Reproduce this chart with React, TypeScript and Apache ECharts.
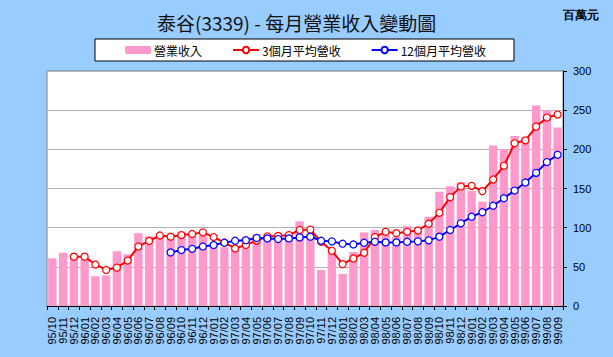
import React, { useEffect, useRef } from "react";
import * as echarts from "echarts";

const months: string[] = [
  "95/10", "95/11", "95/12",
  "96/01", "96/02", "96/03", "96/04", "96/05", "96/06", "96/07", "96/08", "96/09", "96/10", "96/11", "96/12",
  "97/01", "97/02", "97/03", "97/04", "97/05", "97/06", "97/07", "97/08", "97/09", "97/10", "97/11", "97/12",
  "98/01", "98/02", "98/03", "98/04", "98/05", "98/06", "98/07", "98/08", "98/09", "98/10", "98/11", "98/12",
  "99/01", "99/02", "99/03", "99/04", "99/05", "99/06", "99/07", "99/08", "99/09",
];

const revenue: number[] = [
  61, 68, 61,
  60, 38, 39, 70, 66, 93, 89, 89, 86, 95, 93, 94,
  81, 75, 71, 88, 92, 87, 90, 93, 108, 92, 46, 70,
  41, 69, 94, 97, 91, 88, 102, 97, 114, 146, 153, 158,
  147, 133, 205, 200, 217, 215, 256, 250, 228,
];

const avg3: (number | null)[] = [
  null, null, 63,
  63, 53, 46, 49, 58, 76, 83, 90, 88.5, 90.5, 92, 94,
  88, 81, 73.5, 78, 83.5, 89, 89.5, 90.5, 97, 97.5, 82, 70.5,
  53.4, 60.7, 68, 88, 94.7, 93, 94.7, 96.5, 105, 119, 139, 152.6,
  153.4, 146.6, 161.5, 179, 207.7, 211.5, 229, 240.6, 244.4,
];

const avg12: (number | null)[] = [
  null, null, null,
  null, null, null, null, null, null, null, null, 68.4, 71.4, 73, 76,
  77.8, 80.8, 83.3, 84, 86.8, 86.3, 85.5, 86.3, 87.6, 88.5, 83.3, 82.5,
  79.5, 78.6, 80.8, 82, 81.2, 81.2, 82, 82.5, 83.8, 88.5, 97, 105.5,
  114, 119.7, 128, 137.6, 147.4, 157.7, 170, 183.8, 193,
];

const yTicks = { min: 0, max: 300, interval: 50 };

const TITLE = "泰谷(3339) - 每月營業收入變動圖";
const UNIT = "百萬元";
const NAMES = ["營業收入", "3個月平均營收", "12個月平均營收"];

const CJK = "'Noto Sans CJK TC', 'Noto Sans CJK SC', sans-serif";
const LATIN = "'Liberation Sans', Arial, sans-serif";

export default function App() {
  const ref = useRef<HTMLDivElement>(null);

  useEffect(() => {
    if (!ref.current) return;
    const chart = echarts.init(ref.current, undefined, { renderer: "svg" });
    chart.setOption({
      animation: false,
      backgroundColor: "#99CCFF",
      title: {
        text: TITLE,
        left: 152,
        top: 8,
        textStyle: { fontSize: 19, fontWeight: "normal", color: "#111", fontFamily: CJK },
      },
      graphic: [
        {
          type: "text",
          left: 563,
          top: 9,
          style: { text: UNIT, fontSize: 12, fontWeight: "bold", fill: "#000", font: `bold 12px ${CJK}` },
        },
      ],
      legend: {
        left: 95,
        top: 39,
        padding: [5, 28, 5, 30],
        itemGap: 30,
        itemWidth: 26,
        itemHeight: 8,
        backgroundColor: "#fff",
        borderColor: "#000",
        borderWidth: 1,
        borderRadius: 0,
        textStyle: { fontSize: 12, color: "#000", fontFamily: CJK, padding: [0, 0, 0, -2] },
        data: NAMES,
      },
      grid: {
        left: 47,
        right: 50,
        top: 71,
        bottom: 51,
        show: true,
        backgroundColor: "#fff",
        borderColor: "#808080",
        borderWidth: 1,
      },
      xAxis: {
        type: "category",
        data: months,
        boundaryGap: true,
        axisLine: { lineStyle: { color: "#000", width: 1 } },
        axisTick: { show: true, length: 4, lineStyle: { color: "#000" }, interval: 0 },
        axisLabel: {
          rotate: 90,
          interval: 0,
          margin: 11,
          fontSize: 11,
          color: "#000",
          fontFamily: LATIN,
        },
        splitLine: { show: false },
      },
      yAxis: {
        type: "value",
        position: "right",
        min: yTicks.min,
        max: yTicks.max,
        interval: yTicks.interval,
        axisLine: { show: true, lineStyle: { color: "#000", width: 1 } },
        axisTick: { show: true, length: 4, lineStyle: { color: "#000" } },
        axisLabel: { margin: 10, fontSize: 11, color: "#000", fontFamily: LATIN },
        splitLine: { show: true, lineStyle: { color: "#b4b4b4", width: 1 } },
      },
      series: [
        {
          name: NAMES[0],
          type: "bar",
          data: revenue,
          barWidth: "78%",
          itemStyle: { color: "#FF99CC" },
        },
        {
          name: NAMES[1],
          type: "line",
          data: avg3,
          symbol: "circle",
          symbolSize: 7,
          lineStyle: { color: "#FF0000", width: 2 },
          itemStyle: { color: "#fff", borderColor: "#FF0000", borderWidth: 1.2 },
        },
        {
          name: NAMES[2],
          type: "line",
          data: avg12,
          symbol: "circle",
          symbolSize: 7,
          lineStyle: { color: "#0000FF", width: 2 },
          itemStyle: { color: "#fff", borderColor: "#0000FF", borderWidth: 1.2 },
        },
      ],
    });
    return () => chart.dispose();
  }, []);

  return (
    <div
      ref={ref}
      style={{ position: "fixed", left: 0, top: 0, width: 613, height: 357, background: "#99CCFF" }}
    />
  );
}
